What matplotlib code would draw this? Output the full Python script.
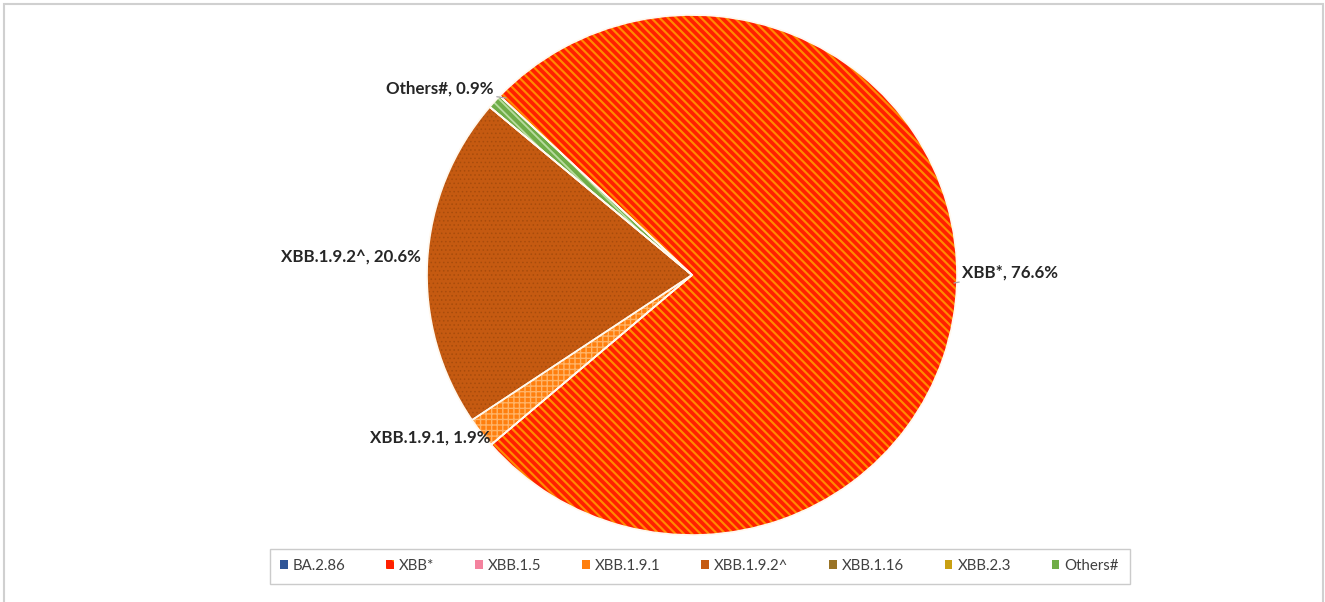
import matplotlib
matplotlib.use("Agg")
import matplotlib.pyplot as plt
from matplotlib.patches import Patch, Rectangle

# ---- data ----
variants = ["BA.2.86", "XBB*", "XBB.1.5", "XBB.1.9.1", "XBB.1.9.2^", "XBB.1.16", "XBB.2.3", "Others#"]
shares = [0.0, 76.6, 0.0, 1.9, 20.6, 0.0, 0.0, 0.9]
face_colors = ["#2F5597", "#FF2000", "#F4829E", "#FF7F0E", "#C55A11", "#997325", "#C9A012", "#70AD47"]
hatch_colors = ["#2F5597", "#FF8A00", "#F4829E", "#FFB366", "#A84C0C", "#997325", "#C9A012", "#B8DC9E"]
hatches = [None, "\\" * 4, None, "+++", "....", None, None, "\\" * 4]
hatch_lws = [1.0, 1.55, 1.0, 1.0, 0.6, 1.0, 1.0, 1.3]

plt.rcParams["font.family"] = ["Lato", "DejaVu Sans"]
plt.rcParams["hatch.linewidth"] = 1.55

W, H = 1325, 602
fig = plt.figure(figsize=(W / 100, H / 100), dpi=100)

# figure border
fig.patches.append(Rectangle((4 / W, -0.02), 1319 / W, 1 - 4 / H + 0.02,
                             transform=fig.transFigure, fill=False,
                             edgecolor="#D0D0D0", linewidth=1.5))

cx, cy, rx, ry = 692, 275, 265, 260
ax = fig.add_axes([(cx - rx) / W, (H - cy - ry) / H, 2 * rx / W, 2 * ry / H])

start = 90 - 313.5
wedges, _ = ax.pie(shares, colors=face_colors, startangle=start, counterclock=False,
                   wedgeprops=dict(linewidth=0), radius=1.0)
for w, hc, ht, hl in zip(wedges, hatch_colors, hatches, hatch_lws):
    w.set_edgecolor(hc)
    w.set_linewidth(0)
    if ht:
        w.set_hatch(ht)
        try:
            w.set_hatch_linewidth(hl)
        except AttributeError:
            pass
# white separators
ax.pie(shares, colors=["none"] * len(shares), startangle=start, counterclock=False,
       wedgeprops=dict(linewidth=1.2, edgecolor="#FFF8EE", fill=False), radius=1.0)

ax.set_aspect("auto")
ax.set_xlim(-1, 1)
ax.set_ylim(-1, 1)
ax.axis("off")

def px(x, y):
    return ((x - cx) / rx, (cy - y) / ry)

lbl_kw = dict(fontsize=12.2, fontweight="bold", color="#262626")
line_kw = dict(arrowstyle="-", color="#A6A6A6", lw=0.9, shrinkA=0, shrinkB=0)

ax.annotate(f"{variants[1]}, {shares[1]}%", xy=px(954, 283), xytext=px(962, 273),
            ha="left", va="center", arrowprops=line_kw, annotation_clip=False, **lbl_kw)
ax.annotate(f"{variants[7]}, {shares[7]}%", xy=px(506, 98), xytext=px(494, 89),
            ha="right", va="center", arrowprops=line_kw, annotation_clip=False, **lbl_kw)
ax.text(*px(421, 257), f"{variants[4]}, {shares[4]}%", ha="right", va="center", **lbl_kw)
ax.text(*px(490, 438), f"{variants[3]}, {shares[3]}%", ha="right", va="center", **lbl_kw)

handles = []
for fc, hc, ht in zip(face_colors, hatch_colors, hatches):
    if fc == "#FF2000":
        handles.append(Patch(facecolor=fc, edgecolor=hc, hatch="\\\\", linewidth=0))
    else:
        handles.append(Patch(facecolor=fc, edgecolor=fc, linewidth=0))

leg = fig.legend(handles, variants, ncol=8, loc="lower left", mode="expand",
                 bbox_to_anchor=(262 / W, (H - 591) / H, 875 / W, 39 / H),
                 fontsize=10.8, frameon=True, fancybox=False,
                 handlelength=0.5, handleheight=0.5, handletextpad=0.35,
                 borderpad=0.7, columnspacing=1.0, labelcolor="#404040")
leg.get_frame().set_edgecolor("#BFBFBF")
leg.get_frame().set_linewidth(1.0)

fig.savefig("out.png", dpi=100)
